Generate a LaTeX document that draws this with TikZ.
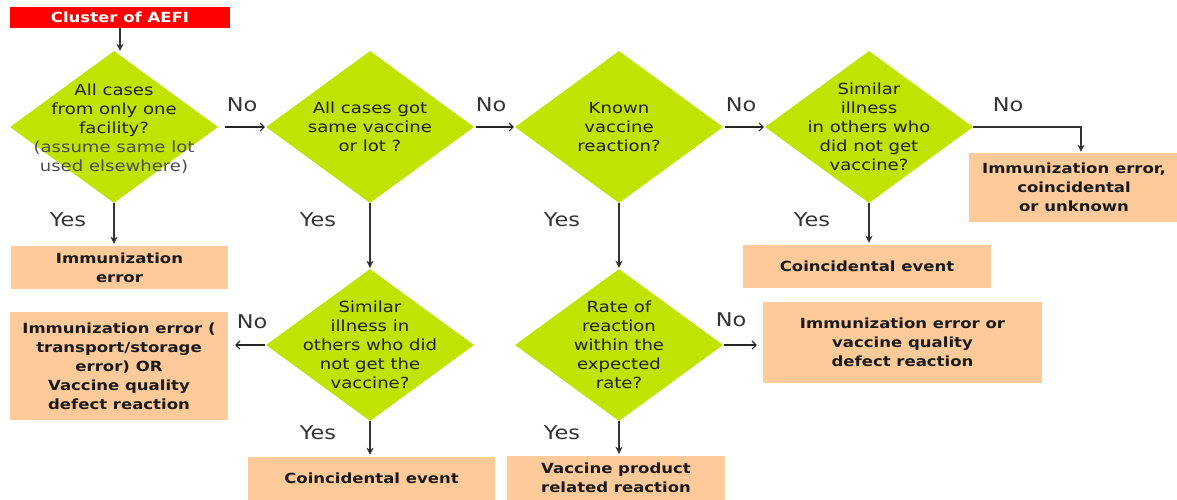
\documentclass[tikz,border=0pt]{standalone}
\usepackage{fontspec}
\setmainfont{DejaVu Sans}[FakeStretch=1.18]
\usetikzlibrary{shapes.geometric,arrows.meta}
\definecolor{aefired}{HTML}{FF0000}
\definecolor{lgreen}{HTML}{C0E400}
\definecolor{peach}{HTML}{FFCA99}
\begin{document}
\begin{tikzpicture}[x=1pt,y=-1pt,
 dia/.style={shape=diamond, fill=lgreen, draw=none, inner sep=0pt, minimum width=208pt, minimum height=152pt},
 dtext/.style={align=center, font=\fontsize{15.3}{19}\selectfont, text=black!88, inner sep=0pt},
 res/.style={fill=peach, draw=none, align=center, font=\bfseries\fontsize{14}{19}\selectfont, text=black!90, inner sep=0pt},
 lab/.style={font=\fontsize{19}{20}\selectfont, text=black!80, inner sep=0pt},
 arr/.style={-{Straight Barb[length=4pt,width=8pt]}, line width=1.1pt, draw=black!85},
 varr/.style={-{Stealth[length=7pt,width=7pt,inset=2pt]}, line width=1.3pt, draw=black!80}
]
\useasboundingbox (0,0) rectangle (1177,499);
% start
\node[fill=aefired, minimum width=220pt, minimum height=21pt, inner sep=0pt, text=white, font=\bfseries\fontsize{14}{16}\selectfont] (r) at (120,17.5) {Cluster of AEFI};
% decisions
\node[dia] (d1) at (114,127) {};
\node[dtext] (t1) at (114,129) {All cases\\from only one\\facility?\\{\color{black!70}(assume same lot}\\{\color{black!70}used elsewhere)}};
\node[dia] (d2) at (370,127) {};
\node[dtext] (t2) at (370,127) {All cases got\\same vaccine\\or lot ?};
\node[dia] (d3) at (619,127) {};
\node[dtext] (t3) at (619,127) {Known\\vaccine\\reaction?};
\node[dia] (d4) at (869,127) {};
\node[dtext] (t4) at (869,126.5) {Similar\\illness\\in others who\\did not get\\vaccine?};
\node[dia] (d5) at (370,345) {};
\node[dtext] (t5) at (370,344.5) {Similar\\illness in\\others who did\\not get the\\vaccine?};
\node[dia] (d6) at (619,345) {};
\node[dtext] (t6) at (619,344.5) {Rate of\\reaction\\within the\\expected\\rate?};
% results
\node[res, minimum width=217pt, minimum height=43pt] (b1) at (119.5,267.5) {Immunization\\error};
\node[res, minimum width=248pt, minimum height=43pt] (b2) at (867,266.5) {Coincidental event};
\node[res, minimum width=210pt, minimum height=69pt] (b3) at (1074,187.5) {Immunization error,\\coincidental\\or unknown};
\node[res, minimum width=218pt, minimum height=108pt] (b4) at (119,366) {Immunization error (\\transport/storage\\error) OR\\Vaccine quality\\defect reaction};
\node[res, minimum width=247pt, minimum height=43pt] (b5) at (371.5,478.5) {Coincidental event};
\node[res, minimum width=279pt, minimum height=81pt] (b6) at (902.5,342.5) {Immunization error or\\vaccine quality\\defect reaction};
\node[res, minimum width=218pt, minimum height=44pt] (b7) at (616,478) {Vaccine product\\related reaction};
% connectors
\draw[varr] (r.south) -- (r.south |- d1.north);
\draw[varr, shorten >=2pt] (d1.south) -- (d1.south |- b1.north);
\draw[arr, shorten <=7pt, shorten >=1pt] (d1.east) -- (d2.west);
\draw[arr, shorten <=2pt, shorten >=1pt] (d2.east) -- (d3.west);
\draw[arr, shorten <=2pt, shorten >=1pt] (d3.east) -- (d4.west);
\coordinate (c4) at ([xshift=7pt]b3.north);
\draw[varr, shorten >=1pt] (d4.east) -| (c4);
\draw[varr, shorten >=2pt] (d4.south) -- (d4.south |- b2.north);
\draw[varr, shorten >=1pt] (d2.south) -- (d5.north);
\draw[varr, shorten >=1pt] (d3.south) -- (d6.north);
\draw[arr, shorten <=1pt, shorten >=7pt] (d5.west) -- (d5.west -| b4.east);
\draw[varr, shorten >=2pt] (d5.south) -- (d5.south |- b5.north);
\draw[arr, shorten <=1pt, shorten >=6pt] (d6.east) -- (d6.east -| b6.west);
\draw[varr, shorten >=2pt] (d6.south) -- (d6.south |- b7.north);
% labels
\node[lab] (n1) at (242,105) {No};
\node[lab] (n2) at (491,105) {No};
\node[lab] (n3) at (741,105) {No};
\node[lab] (n4) at (1008,105) {No};
\node[lab] (n5) at (252,322) {No};
\node[lab] (n6) at (731,320) {No};
\node[lab] (y1) at (68,220) {Yes};
\node[lab] (y2) at (318,220) {Yes};
\node[lab] (y3) at (562,220) {Yes};
\node[lab] (y4) at (812,220) {Yes};
\node[lab] (y5) at (318,433) {Yes};
\node[lab] (y6) at (562,433) {Yes};
\end{tikzpicture}
\end{document}
